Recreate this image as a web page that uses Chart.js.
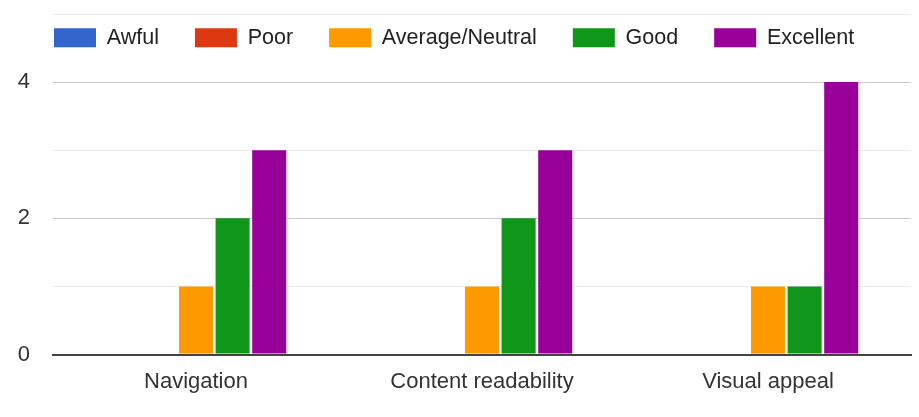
<!DOCTYPE html>
<html lang="en">
<head>
    <meta charset="UTF-8">
    <title>Survey ratings</title>
    <script src="https://cdn.jsdelivr.net/npm/chart.js"></script>
    <style>
        body { margin: 0; background: #fff; }
    </style>
</head>
<body>
    <canvas id="ratingsChart" width="919" height="417"></canvas>

    <script>
        // chart data
        var categories = ['Navigation', 'Content readability', 'Visual appeal'];
        var seriesNames = ['Awful', 'Poor', 'Average/Neutral', 'Good', 'Excellent'];
        var awful = [0, 0, 0];
        var poor = [0, 0, 0];
        var average = [1, 1, 1];
        var good = [2, 2, 1];
        var excellent = [3, 3, 4];
        var yMax = 5;

        var colors = ['#3366cc', '#dc3912', '#ff9900', '#109618', '#990099'];
        var values = [awful, poor, average, good, excellent];

        var font = 'Arial, "Liberation Sans", sans-serif';
        var legendPadding = 36;

        // google-style legend floats over the top of the plot:
        // take no room in the layout, then place it by hand
        var floatingLegend = {
            id: 'floatingLegend',
            afterInit: function(chart) {
                var legend = chart.legend;
                var fit = legend.fit;
                legend.fit = function() {
                    fit.call(this);
                    this.height = 0;
                };
            },
            afterLayout: function(chart) {
                var legend = chart.legend;
                legend.left = 54 - legendPadding;
                legend.top = 27 - legendPadding;
                legend.right = chart.width;
                legend.bottom = 70;
            }
        };

        var ctx = document.getElementById('ratingsChart').getContext('2d');
        var chart = new Chart(ctx, {
            type: 'bar',
            data: {
                labels: categories,
                datasets: seriesNames.map(function(name, i) {
                    return {
                        label: name,
                        data: values[i],
                        backgroundColor: colors[i],
                        borderWidth: 0,
                        barPercentage: 0.93,
                        categoryPercentage: 0.64
                    };
                })
            },
            options: {
                responsive: false,
                animation: false,
                layout: {
                    padding: { left: 0, right: 8, top: 14, bottom: 8 }
                },
                plugins: {
                    tooltip: { enabled: false },
                    legend: {
                        position: 'top',
                        align: 'start',
                        labels: {
                            boxWidth: 42,
                            boxHeight: 19,
                            padding: legendPadding,
                            color: '#222',
                            font: { family: font, size: 21.5 }
                        }
                    }
                },
                scales: {
                    x: {
                        grid: { display: false, drawTicks: false },
                        border: { display: true, color: '#444', width: 2 },
                        ticks: {
                            color: '#333',
                            padding: 14,
                            maxRotation: 0,
                            font: { family: font, size: 22 }
                        }
                    },
                    y: {
                        min: 0,
                        max: yMax,
                        afterFit: function(scale) {
                            scale.width = 53;
                            scale.paddingTop = 0;
                            scale.paddingBottom = 0;
                        },
                        border: { display: false },
                        grid: {
                            drawTicks: false,
                            color: function(c) {
                                if (c.tick.value === 0) return '#444';
                                return c.tick.value % 2 === 0 ? '#cccccc' : '#ebebeb';
                            },
                            lineWidth: function(c) {
                                return c.tick.value === 0 ? 2 : 1;
                            }
                        },
                        ticks: {
                            stepSize: 1,
                            padding: 23,
                            color: '#333',
                            font: { family: font, size: 22 },
                            callback: function(v) { return v % 2 === 0 ? v : ''; }
                        }
                    }
                }
            },
            plugins: [floatingLegend]
        });
    </script>
</body>
</html>
